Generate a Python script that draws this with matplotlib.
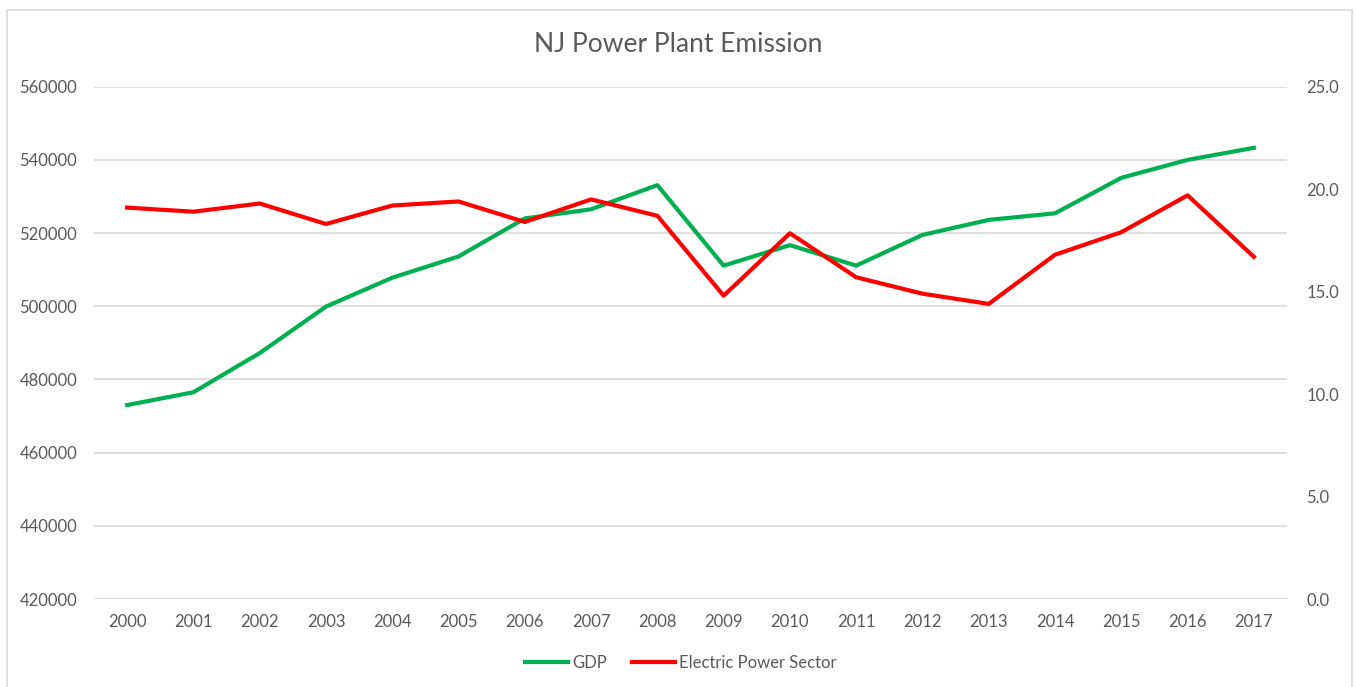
import matplotlib
matplotlib.use("Agg")
import matplotlib.pyplot as plt
from matplotlib.lines import Line2D
from matplotlib.patches import Rectangle

years = [str(y) for y in range(2000, 2018)]
gdp = [473000, 476500, 487200, 499900, 507800, 513600, 524000, 526500, 533100,
       511100, 516700, 511100, 519500, 523600, 525400, 535100, 540000, 543300]
electric = [19.1, 18.9, 19.3, 18.3, 19.2, 19.4, 18.4, 19.5, 18.7,
            14.8, 17.85, 15.7, 14.9, 14.4, 16.8, 17.9, 19.7, 16.7]
left_ticks = [420000, 440000, 460000, 480000, 500000, 520000, 540000, 560000]
right_ticks = [0, 5, 10, 15, 20, 25]

GREEN = "#00B050"
RED = "#FF0000"
TEXT = "#595959"
GRID = "#D9D9D9"

plt.rcParams["font.family"] = ["Lato", "DejaVu Sans"]

fig = plt.figure(figsize=(13.56, 6.87), dpi=100)
ax = fig.add_axes([94 / 1356, 1 - 599 / 687, (1287 - 94) / 1356, (599 - 86.7) / 687])
ax2 = ax.twinx()

x = list(range(len(years)))
ax.plot(x, gdp, color=GREEN, lw=3, solid_joinstyle="round", zorder=3)
ax2.plot(x, electric, color=RED, lw=3, solid_joinstyle="round", zorder=3)

ax.set_xlim(-0.5, len(years) - 0.5)
ax.set_ylim(420000, 560000)
ax2.set_ylim(0, 25)
ax.set_yticks(left_ticks)
ax.set_yticklabels([str(v) for v in left_ticks])
ax2.set_yticks(right_ticks)
ax2.set_yticklabels([f"{v:.1f}" for v in right_ticks])
ax.set_xticks(x)
ax.set_xticklabels(years)

ax.grid(axis="y", color=GRID, lw=1.2)
ax.set_axisbelow(True)
for a in (ax, ax2):
    for s in a.spines.values():
        s.set_visible(False)
    a.tick_params(length=0, colors=TEXT, labelsize=12)
ax.tick_params(axis="y", pad=12)
ax2.tick_params(axis="y", pad=14)
ax.tick_params(axis="x", pad=11)

fig.text(0.5, 1 - 44 / 687, "NJ Power Plant Emission", ha="center", va="center",
         fontsize=19, color=TEXT)

handles = [Line2D([], [], color=GREEN, lw=3), Line2D([], [], color=RED, lw=3)]
fig.legend(handles, ["GDP", "Electric Power Sector"], loc="center",
           bbox_to_anchor=(0.502, 1 - 663 / 687), ncol=2, frameon=False,
           fontsize=12, labelcolor=TEXT, handlelength=2.6, handletextpad=0.25,
           columnspacing=1.5)

fig.patches.append(Rectangle((7 / 1356, -0.01), (1352 - 7) / 1356, 1 - 10 / 687 + 0.01,
                             transform=fig.transFigure, fill=False,
                             edgecolor="#D9D9D9", lw=1.2))

fig.savefig("out.png", dpi=100)
